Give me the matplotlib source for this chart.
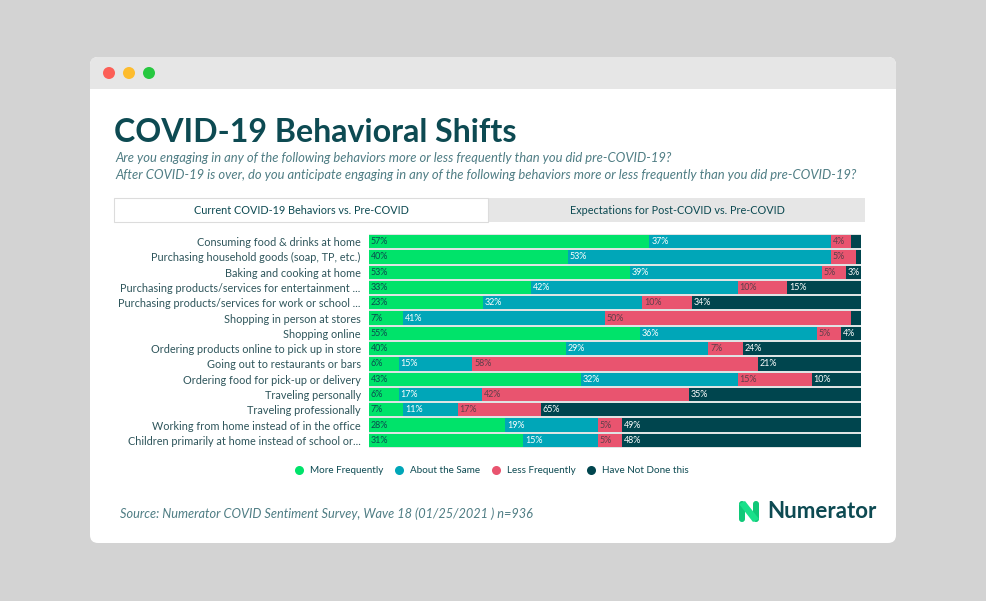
import matplotlib
matplotlib.use("Agg")
import matplotlib.pyplot as plt
from matplotlib.patches import FancyBboxPatch, Rectangle, Circle, Polygon
from matplotlib.lines import Line2D
import numpy as np

categories = [
    "Consuming food & drinks at home",
    "Purchasing household goods (soap, TP, etc.)",
    "Baking and cooking at home",
    "Purchasing products/services for entertainment ...",
    "Purchasing products/services for work or school ...",
    "Shopping in person at stores",
    "Shopping online",
    "Ordering products online to pick up in store",
    "Going out to restaurants or bars",
    "Ordering food for pick-up or delivery",
    "Traveling personally",
    "Traveling professionally",
    "Working from home instead of in the office",
    "Children primarily at home instead of school or...",
]
more_freq = [57, 40, 53, 33, 23, 7, 55, 40, 6, 43, 6, 7, 28, 31]
about_same = [37, 53, 39, 42, 32, 41, 36, 29, 15, 32, 17, 11, 19, 15]
less_freq = [4, 5, 5, 10, 10, 50, 5, 7, 58, 15, 42, 17, 5, 5]
not_done = [2, 1, 3, 15, 34, 2, 4, 24, 21, 10, 35, 65, 49, 48]
series_names = ["More Frequently", "About the Same", "Less Frequently", "Have Not Done this"]

colors = ["#00e36a", "#00a6b8", "#e9546f", "#00454e"]
label_colors = ["#0b4a4f", "#ffffff", "#5c3f4a", "#ffffff"]
DARK = "#0d4a52"
FONT = "Lato"

W, H = 986, 601
fig = plt.figure(figsize=(W / 100, H / 100), dpi=100)
fig.patch.set_facecolor("#d3d3d3")

bg = fig.add_axes([0, 0, 1, 1])
bg.set_xlim(0, W)
bg.set_ylim(H, 0)
bg.axis("off")
bg.set_zorder(0)

# card
bg.add_patch(FancyBboxPatch((90, 57), 806, 486, boxstyle="round,pad=0,rounding_size=8",
                            fc="white", ec="none"))
bg.add_patch(FancyBboxPatch((90, 57), 806, 40, boxstyle="round,pad=0,rounding_size=8",
                            fc="#e6e6e6", ec="none"))
bg.add_patch(Rectangle((90, 89), 806, 14, fc="white", ec="none"))
for cx, c in [(109, "#fc5f57"), (129, "#fdbc2e"), (149, "#27c840")]:
    bg.add_patch(Circle((cx, 73), 6, fc=c, ec="none"))

# title
bg.text(114, 132, "COVID-19 Behavioral Shifts", fontsize=23.1, fontweight="bold",
        color=DARK, family=FONT, va="center", ha="left")
bg.text(115, 158, "Are you engaging in any of the following behaviors more or less frequently than you did pre-COVID-19?",
        fontsize=9.4, style="italic", color="#4f7d84", family=FONT, va="center")
bg.text(115, 175, "After COVID-19 is over, do you anticipate engaging in any of the following behaviors more or less frequently than you did pre-COVID-19?",
        fontsize=9.4, style="italic", color="#4f7d84", family=FONT, va="center")

# tabs
bg.add_patch(Rectangle((488, 198), 377, 24, fc="#e6e6e6", ec="none"))
bg.add_patch(Rectangle((114, 198), 374, 24, fc="white", ec="#dcdcdc", lw=0.8))
bg.text(301, 210, "Current COVID-19 Behaviors vs. Pre-COVID", fontsize=7.8, color=DARK,
        family=FONT, ha="center", va="center")
bg.text(677, 210, "Expectations for Post-COVID vs. Pre-COVID", fontsize=7.8, color=DARK,
        family=FONT, ha="center", va="center")

# source
bg.text(120, 514, "Source: Numerator COVID Sentiment Survey, Wave 18 (01/25/2021 ) n=936",
        fontsize=9.15, style="italic", color="#4f7d84", family=FONT, va="center")

# logo
g1, g2 = "#19e08a", "#10c878"
bg.add_patch(FancyBboxPatch((739, 501), 6, 21, boxstyle="round,pad=0,rounding_size=3", fc=g2, ec="none"))
bg.add_patch(FancyBboxPatch((753, 501), 6, 21, boxstyle="round,pad=0,rounding_size=3", fc=g2, ec="none"))
bg.add_patch(Polygon([(739, 504), (745, 501), (759, 519), (753, 522)], closed=True, fc=g1, ec="none"))
bg.text(767, 512, "Numerator", fontsize=16.0, fontweight="bold", color=DARK, family=FONT,
        va="center", ha="left")

# bars
x0, x1, y0, y1 = 369, 861, 234, 448
ax = fig.add_axes([x0 / W, 1 - y1 / H, (x1 - x0) / W, (y1 - y0) / H])
ax.set_zorder(2)
ax.set_facecolor("#dfe4e4")
n = len(categories)
y = np.arange(n)
data = np.array([more_freq, about_same, less_freq, not_done], dtype=float)
totals = data.sum(axis=0)
shares = data / totals * 100.0
left = np.zeros(n)
for raw, vals, col, lc, name in zip(data, shares, colors, label_colors, series_names):
    ax.barh(y, vals, left=left, height=0.86, color=col, edgecolor="none", label=name)
    for i, (l, v, r) in enumerate(zip(left, vals, raw)):
        if r >= 3:
            ax.text(l + 0.35, i, f"{int(r)}%", fontsize=6.4, color=lc, family=FONT,
                    va="center", ha="left")
    left += vals
ax.set_xlim(0, 100)
ax.set_ylim(n - 0.5, -0.5)
ax.set_yticks(y)
ax.set_yticklabels(categories, fontsize=7.8, color="#2e555b", family=FONT)
ax.tick_params(axis="y", length=0, pad=6)
ax.set_xticks([])
for s in ax.spines.values():
    s.set_visible(False)

handles = [Line2D([0], [0], marker="o", linestyle="none", markersize=6.5,
                  markerfacecolor=c, markeredgecolor="none") for c in colors]
leg = ax.legend(handles, series_names, loc="center", ncol=4, frameon=False,
                bbox_to_anchor=((489 - x0) / (x1 - x0), -0.105), handletextpad=0.1,
                columnspacing=0.6, prop={"family": FONT, "size": 7.1})
for t in leg.get_texts():
    t.set_color(DARK)

fig.savefig("out.png", dpi=100, facecolor=fig.get_facecolor())
